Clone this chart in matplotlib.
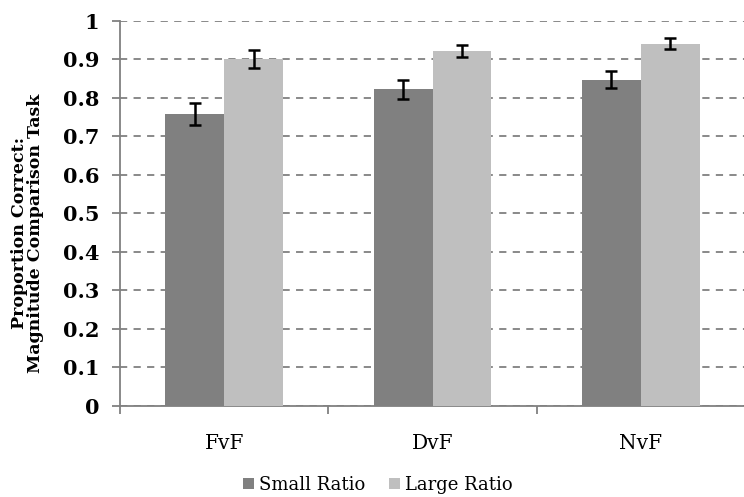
import numpy as np
import matplotlib
matplotlib.use("Agg")
import matplotlib.pyplot as plt
from matplotlib.ticker import FixedLocator

# data
conditions = ["FvF", "DvF", "NvF"]
small_ratio = [0.758, 0.822, 0.847]
small_err = [0.028, 0.025, 0.022]
large_ratio = [0.900, 0.922, 0.940]
large_err = [0.023, 0.015, 0.014]
y_ticks = [0, 0.1, 0.2, 0.3, 0.4, 0.5, 0.6, 0.7, 0.8, 0.9, 1]
y_labels = ["0", "0.1", "0.2", "0.3", "0.4", "0.5", "0.6", "0.7", "0.8", "0.9", "1"]

serif = ["DejaVu Serif"]

fig = plt.figure(figsize=(7.44, 4.97), dpi=100)
ax = fig.add_axes([120 / 744, 1 - 406 / 497, 625 / 744, (406 - 20.7) / 497])

x = np.arange(len(conditions))
width = 0.283
err_kw = dict(ecolor="black", elinewidth=1.8, capsize=4, capthick=1.8)
ax.bar(x - width / 2, small_ratio, width, yerr=small_err, color="#808080",
       label="Small Ratio", error_kw=err_kw, zorder=3)
ax.bar(x + width / 2, large_ratio, width, yerr=large_err, color="#bfbfbf",
       label="Large Ratio", error_kw=err_kw, zorder=3)

ax.set_xlim(-0.5, len(conditions) - 0.5)
ax.set_ylim(0, 1)
ax.set_yticks(y_ticks)
ax.set_yticklabels(y_labels, family=serif, fontsize=15, fontweight="bold")
ax.yaxis.grid(True, linestyle=(0, (4, 3.5)), color="#808080", linewidth=1.3, zorder=0)

ax.set_xticks(x)
ax.set_xticklabels(conditions, family=serif, fontsize=14.5)
ax.tick_params(axis="x", which="major", length=0, pad=20)
ax.xaxis.set_minor_locator(FixedLocator(np.arange(len(conditions) + 1) - 0.5))
ax.tick_params(axis="x", which="minor", length=6, width=1.3, color="#808080", direction="out")
ax.tick_params(axis="y", length=6, width=1.3, color="#808080", pad=9)

for side in ["top", "right"]:
    ax.spines[side].set_visible(False)
for side in ["left", "bottom"]:
    ax.spines[side].set_color("#808080")
    ax.spines[side].set_linewidth(1.3)

fig.text(0.037, 1 - 233 / 497, "Proportion Correct:\nMagnitude Comparison Task", rotation=90,
         ha="center", va="center", family=serif, fontsize=12.5, fontweight="bold",
         linespacing=0.95)

leg = fig.legend(loc="center", bbox_to_anchor=(378 / 744, 1 - 485 / 497), ncol=2,
                 frameon=False, prop={"family": serif, "size": 13},
                 handlelength=0.6, handleheight=0.6, handletextpad=0.3, columnspacing=1.3)

fig.savefig("out.png", dpi=100)
